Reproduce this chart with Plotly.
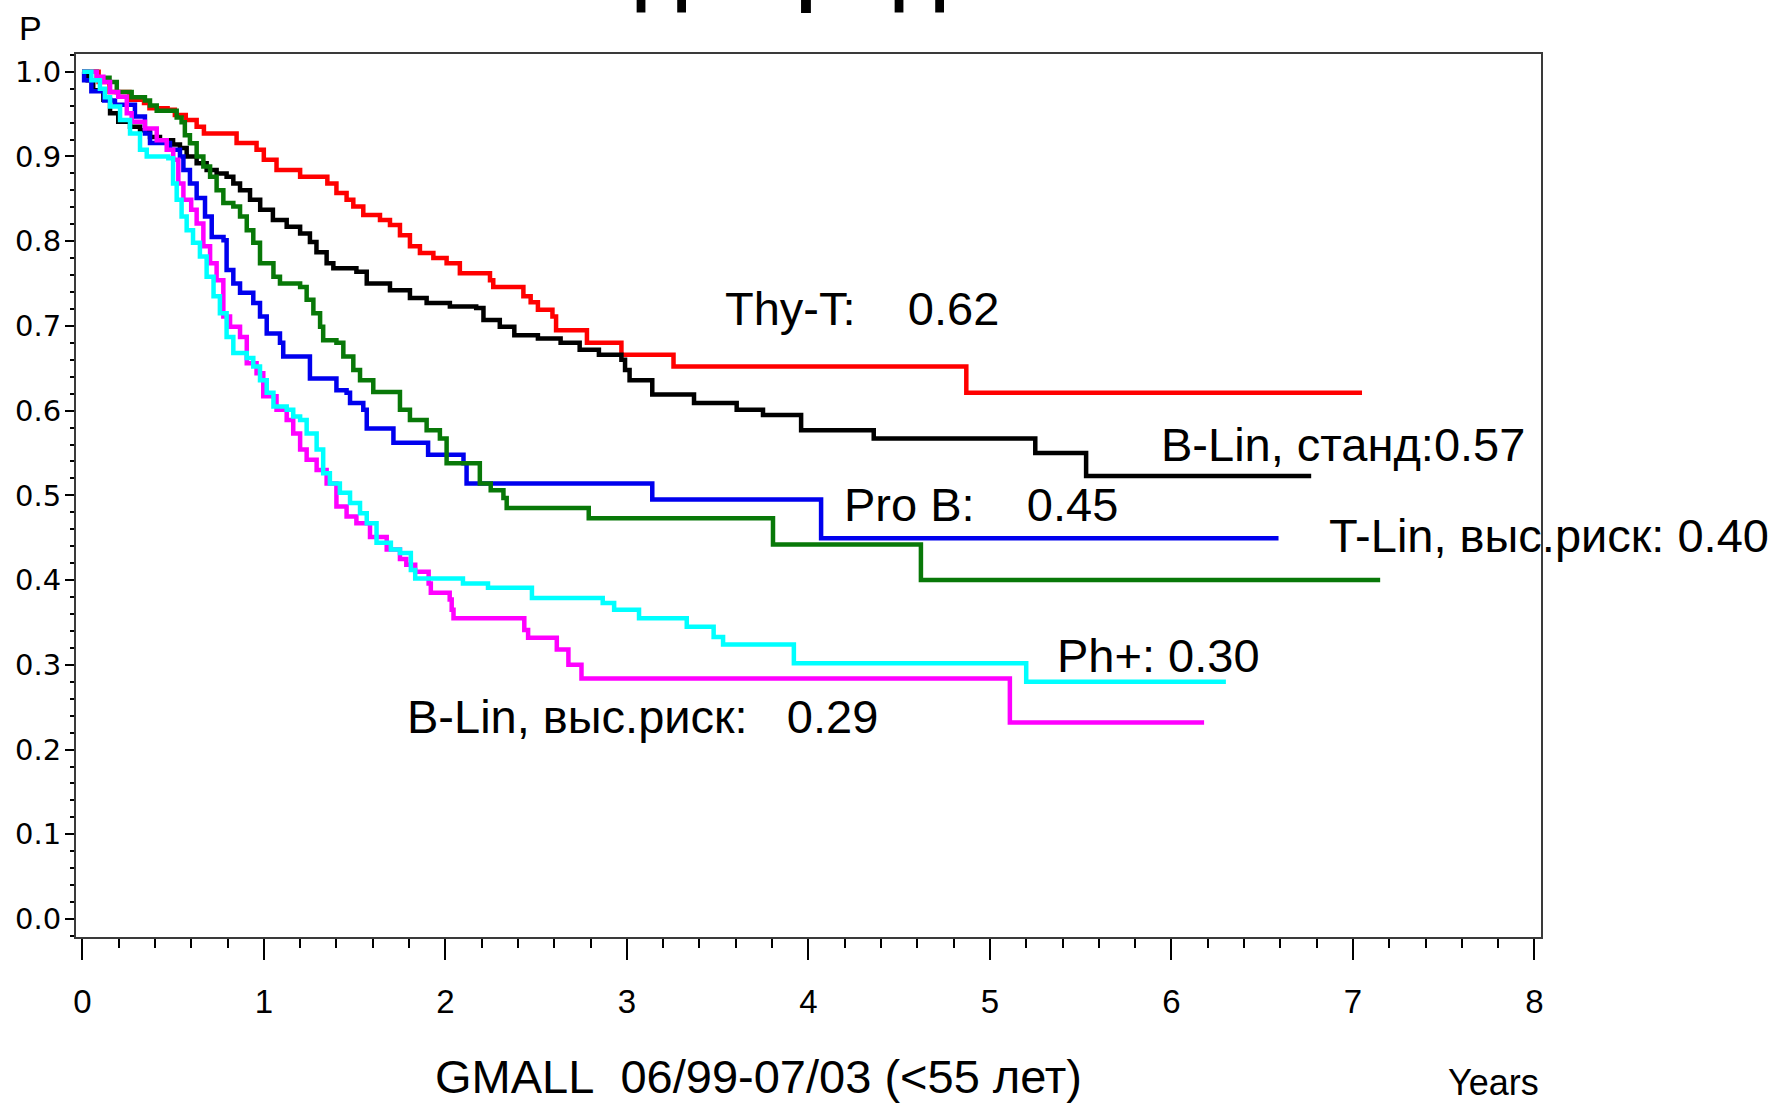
import plotly.graph_objects as go

# ---------------- data ----------------
# Thy-T (red)
t_thy_t = [0, 0.09, 0.15, 0.26, 0.34, 0.37, 0.47, 0.51, 0.57, 0.63, 0.67, 0.85, 0.96, 1.00, 1.07,
           1.20, 1.35, 1.40, 1.456, 1.493, 1.548, 1.64, 1.695, 1.75, 1.805, 1.86, 1.934, 2.007,
           2.08, 2.246, 2.264, 2.43, 2.47, 2.51, 2.59, 2.61, 2.78, 2.97, 3.257, 4.87, 7.05]
s_thy_t = [1.0, 0.988, 0.976, 0.967, 0.963, 0.957, 0.955, 0.949, 0.943, 0.935, 0.927, 0.916, 0.908,
           0.896, 0.884, 0.876, 0.868, 0.857, 0.849, 0.841, 0.831, 0.825, 0.819, 0.807, 0.794, 0.786,
           0.780, 0.774, 0.762, 0.754, 0.746, 0.735, 0.728, 0.719, 0.711, 0.695, 0.680, 0.666,
           0.652, 0.621, 0.621]

# B-Lin, standard risk (black)
t_blin_std = [0, 0.03, 0.06, 0.116, 0.153, 0.198, 0.263, 0.318, 0.373, 0.428, 0.50, 0.538, 0.575,
              0.63, 0.685, 0.74, 0.795, 0.832, 0.869, 0.924, 0.98, 1.05, 1.126, 1.20, 1.254, 1.29,
              1.346, 1.383, 1.51, 1.567, 1.695, 1.805, 1.897, 2.025, 2.17, 2.21, 2.30, 2.38, 2.51,
              2.635, 2.74, 2.846, 2.97, 2.99, 3.015, 3.14, 3.37, 3.605, 3.75, 3.96, 4.36, 5.25,
              5.53, 6.77]
s_blin_std = [1.0, 0.990, 0.978, 0.967, 0.951, 0.941, 0.935, 0.931, 0.923, 0.919, 0.914, 0.910,
              0.900, 0.892, 0.884, 0.880, 0.876, 0.868, 0.860, 0.849, 0.837, 0.825, 0.817, 0.809,
              0.799, 0.787, 0.774, 0.768, 0.764, 0.750, 0.742, 0.733, 0.727, 0.723, 0.721, 0.707,
              0.699, 0.689, 0.685, 0.680, 0.672, 0.666, 0.660, 0.648, 0.636, 0.619, 0.609, 0.601,
              0.595, 0.577, 0.567, 0.550, 0.523, 0.523]

# Pro B (blue)
t_pro_b = [0, 0.01, 0.05, 0.12, 0.18, 0.29, 0.345, 0.373, 0.483, 0.538, 0.557, 0.593, 0.63, 0.676,
           0.713, 0.778, 0.795, 0.832, 0.869, 0.942, 0.979, 1.016, 1.089, 1.107, 1.254, 1.40,
           1.456, 1.475, 1.548, 1.567, 1.714, 1.905, 2.10, 2.117, 3.14, 4.07, 6.59]
s_pro_b = [1.0, 0.990, 0.977, 0.966, 0.961, 0.947, 0.927, 0.916, 0.908, 0.900, 0.884, 0.868, 0.851,
           0.829, 0.805, 0.801, 0.766, 0.750, 0.739, 0.727, 0.711, 0.691, 0.680, 0.664, 0.638,
           0.624, 0.621, 0.609, 0.601, 0.579, 0.562, 0.548, 0.538, 0.514, 0.495, 0.4495, 0.4495]

# T-Lin, high risk (green)
t_tlin_hr = [0, 0.08, 0.15, 0.19, 0.272, 0.345, 0.373, 0.41, 0.52, 0.547, 0.565, 0.593, 0.63,
             0.667, 0.704, 0.74, 0.777, 0.832, 0.869, 0.906, 0.942, 0.979, 1.053, 1.089, 1.20,
             1.236, 1.273, 1.31, 1.327, 1.40, 1.438, 1.493, 1.53, 1.603, 1.75, 1.805, 1.897,
             1.97, 2.007, 2.19, 2.25, 2.32, 2.338, 2.79, 3.805, 4.62, 7.15]
s_tlin_hr = [1.0, 0.993, 0.988, 0.976, 0.970, 0.966, 0.960, 0.954, 0.946, 0.9405, 0.925, 0.9155,
             0.900, 0.888, 0.876, 0.860, 0.845, 0.841, 0.829, 0.813, 0.798, 0.774, 0.758, 0.750,
             0.746, 0.731, 0.715, 0.699, 0.683, 0.680, 0.664, 0.648, 0.636, 0.622, 0.601, 0.589,
             0.577, 0.567, 0.538, 0.514, 0.506, 0.497, 0.485, 0.473, 0.442, 0.400, 0.400]

# B-Lin, high risk (magenta)
t_blin_hr = [0, 0.08, 0.116, 0.153, 0.198, 0.245, 0.272, 0.345, 0.41, 0.465, 0.501, 0.529, 0.557,
             0.60, 0.63, 0.667, 0.704, 0.74, 0.777, 0.814, 0.869, 0.906, 0.96, 0.997, 1.07, 1.126,
             1.162, 1.20, 1.236, 1.291, 1.346, 1.40, 1.456, 1.51, 1.585, 1.677, 1.75, 1.785,
             1.834, 1.908, 1.92, 2.024, 2.035, 2.045, 2.435, 2.456, 2.614, 2.678, 2.75, 5.11, 6.18]
s_blin_hr = [1.0, 0.994, 0.988, 0.976, 0.9705, 0.951, 0.941, 0.933, 0.919, 0.908, 0.896, 0.868,
             0.849, 0.837, 0.821, 0.794, 0.774, 0.754, 0.711, 0.699, 0.687, 0.656, 0.644, 0.617,
             0.601, 0.589, 0.573, 0.554, 0.542, 0.530, 0.514, 0.487, 0.475, 0.467, 0.451, 0.436,
             0.425, 0.418, 0.410, 0.396, 0.385, 0.377, 0.365, 0.355, 0.341, 0.332, 0.318, 0.300,
             0.284, 0.232, 0.232]

# Ph+ (cyan)
t_ph = [0, 0.05, 0.097, 0.125, 0.153, 0.208, 0.263, 0.318, 0.355, 0.474, 0.50, 0.52, 0.547, 0.575,
        0.61, 0.648, 0.685, 0.723, 0.758, 0.795, 0.832, 0.906, 0.942, 0.979, 1.016, 1.053, 1.126,
        1.162, 1.20, 1.236, 1.291, 1.327, 1.364, 1.419, 1.475, 1.53, 1.567, 1.621, 1.70, 1.75,
        1.81, 1.834, 2.097, 2.235, 2.477, 2.867, 2.93, 3.067, 3.33, 3.478, 3.53, 3.92, 5.2, 6.3]
s_ph = [1.0, 0.990, 0.980, 0.970, 0.959, 0.943, 0.927, 0.908, 0.900, 0.898, 0.868, 0.849, 0.829,
        0.813, 0.798, 0.782, 0.758, 0.735, 0.715, 0.687, 0.668, 0.662, 0.652, 0.636, 0.621, 0.605,
        0.601, 0.593, 0.589, 0.573, 0.554, 0.526, 0.514, 0.503, 0.491, 0.479, 0.467, 0.444, 0.436,
        0.432, 0.412, 0.402, 0.396, 0.391, 0.379, 0.373, 0.365, 0.355, 0.345, 0.333, 0.324, 0.302,
        0.280, 0.280]

series_names = ["Thy-T", "B-Lin, станд", "Pro B", "T-Lin, выс.риск", "B-Lin, выс.риск", "Ph+"]
series_t = [t_thy_t, t_blin_std, t_pro_b, t_tlin_hr, t_blin_hr, t_ph]
series_s = [s_thy_t, s_blin_std, s_pro_b, s_tlin_hr, s_blin_hr, s_ph]
series_colors = ["#ff0000", "#000000", "#0000ee", "#087808", "#ff00ff", "#00ffff"]

x_ticks = [0, 1, 2, 3, 4, 5, 6, 7, 8]
y_ticks = [0.0, 0.1, 0.2, 0.3, 0.4, 0.5, 0.6, 0.7, 0.8, 0.9, 1.0]

NB = "\u00a0"
curve_labels = [
    ("Thy-T:" + NB * 4 + "0.62", 3.529, 0.7205),
    ("B-Lin, станд:0.57", 5.934, 0.5598),
    ("Pro B:" + NB * 4 + "0.45", 4.185, 0.4888),
    ("T-Lin, выс.риск: 0.40", 6.859, 0.4528),
    ("Ph+: 0.30", 5.358, 0.3109),
    ("B-Lin, выс.риск:" + NB * 3 + "0.29", 1.7775, 0.2387),
]

# ---------------- figure ----------------
fig = go.Figure()
for name, t, s, c in zip(series_names, series_t, series_s, series_colors):
    fig.add_trace(go.Scatter(x=t, y=s, mode="lines", name=name,
                             line=dict(color=c, width=4.5, shape="hv"),
                             showlegend=False, hoverinfo="skip"))

ann_font = dict(family="Liberation Sans, Arial, sans-serif", size=47, color="black")
annotations = []
for txt, xv, yv in curve_labels:
    annotations.append(dict(text=txt, x=xv, y=yv, xref="x", yref="y", xanchor="left",
                            yanchor="middle", showarrow=False, font=ann_font))

annotations += [
    dict(text="P", x=-0.03105, y=1.03, xref="paper", yref="paper", xanchor="center",
         yanchor="middle", showarrow=False,
         font=dict(family="Liberation Sans, Arial", size=34, color="black")),
    dict(text="GMALL" + NB * 2 + "06/99-07/03 (<55 лет)", x=0.4658, y=-0.158, xref="paper",
         yref="paper", xanchor="center", yanchor="middle", showarrow=False, font=ann_font),
    dict(text="Years", x=0.9677, y=-0.1644, xref="paper", yref="paper", xanchor="center",
         yanchor="middle", showarrow=False,
         font=dict(family="Liberation Sans Narrow, Liberation Sans, Arial", size=36, color="black")),
]
# bottoms of the (cut-off) slide title above the chart
for ch, xp in [("Д", (662 - 76) / 1465.3), ("р", (818 - 76) / 1465.3), ("Д", (920 - 76) / 1465.3)]:
    annotations.append(dict(text=ch, x=xp, y=1.0916, xref="paper", yref="paper", xanchor="center",
                            yanchor="middle", showarrow=False,
                            font=dict(family="Liberation Sans, Arial", size=72, color="black",
                                      weight="bold")))

fig.update_layout(
    width=1779, height=1104,
    margin=dict(l=76, r=237.7, t=54, b=166.7, pad=0),
    paper_bgcolor="white", plot_bgcolor="white",
    annotations=annotations,
    xaxis=dict(range=[-0.0347, 8.036], tickvals=x_ticks, ticktext=[str(v) for v in x_ticks],
               ticks="outside", ticklen=21, tickwidth=1.5, tickcolor="black",
               minor=dict(dtick=0.2, tick0=0, ticks="outside", ticklen=9, tickwidth=1.5,
                          tickcolor="black"),
               showline=True, linecolor="#3a3a3a", linewidth=2, mirror=True,
               showgrid=False, zeroline=False, ticklabelstandoff=13,
               tickfont=dict(family="Liberation Sans, Arial", size=33, color="black")),
    yaxis=dict(range=[-0.0212, 1.0209], tickvals=y_ticks, ticktext=[f"{v:.1f}" for v in y_ticks],
               ticks="outside", ticklen=9, tickwidth=1.5, tickcolor="black",
               minor=dict(dtick=0.02, tick0=0, ticks="outside", ticklen=4.5, tickwidth=1.5,
                          tickcolor="black"),
               showline=True, linecolor="#3a3a3a", linewidth=2, mirror=True,
               showgrid=False, zeroline=False, ticklabelstandoff=-2,
               tickfont=dict(family="DejaVu Sans, Verdana", size=29, color="black")),
)

fig.write_html("out.html", config={"displayModeBar": False},
               post_script="document.body.style.margin='0';")
